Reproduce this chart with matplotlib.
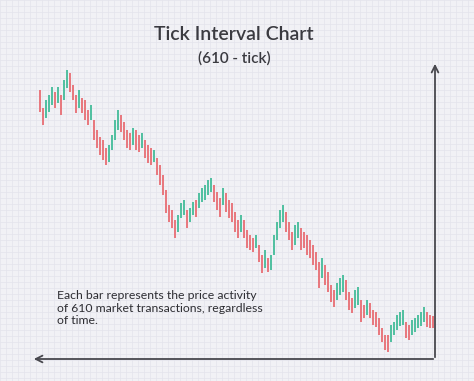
import matplotlib.pyplot as plt
import numpy as np

# price bars, one per 610 transactions (high / low)
highs = [310, 292, 300, 305, 313, 308, 313, 305, 320, 330, 327, 315, 305, 310, 302, 300,
         290, 295, 280, 270, 263, 260, 252, 255, 265, 280, 290, 285, 278, 270, 267, 272,
         270, 265, 267, 260, 255, 252, 250, 242, 235, 225, 210, 195, 190, 180, 185, 197,
         200, 190, 192, 198, 200, 207, 212, 215, 220, 222, 215, 208, 202, 212, 207, 200,
         197, 188, 180, 185, 180, 170, 165, 162, 165, 155, 145, 150, 142, 145, 165, 178,
         190, 195, 188, 178, 168, 175, 178, 172, 168, 165, 160, 155, 148, 138, 142, 135,
         128, 115, 110, 117, 122, 125, 120, 108, 102, 110, 113, 100, 95, 100, 97, 90,
         88, 82, 72, 65, 65, 75, 78, 85, 88, 90, 78, 75, 80, 82, 85, 88,
         93, 88, 85, 84]
lows = [288, 275, 282, 288, 295, 292, 297, 285, 300, 312, 308, 300, 287, 292, 287, 280,
        275, 280, 260, 252, 245, 240, 235, 238, 250, 260, 270, 268, 260, 252, 250, 255,
        250, 248, 252, 242, 237, 235, 238, 225, 215, 205, 187, 178, 172, 162, 168, 182,
        185, 172, 178, 185, 183, 192, 198, 200, 205, 208, 198, 190, 183, 195, 188, 182,
        178, 168, 162, 168, 162, 152, 150, 148, 152, 138, 127, 132, 128, 130, 145, 160,
        172, 178, 168, 160, 150, 155, 162, 150, 152, 145, 142, 135, 130, 112, 122, 115,
        108, 98, 93, 100, 105, 108, 100, 90, 87, 92, 95, 78, 82, 85, 82, 75,
        73, 65, 58, 50, 48, 58, 65, 70, 74, 75, 62, 60, 65, 68, 72, 74,
        78, 73, 72, 72]

title = "Tick Interval Chart"
subtitle = "(610 - tick)"
note = "Each bar represents the price activity\nof 610 market transactions, regardless\nof time."

W, H = 474, 381
fig = plt.figure(figsize=(W / 100, H / 100), dpi=100)
fig.patch.set_facecolor("#f1f1f5")

# background with fine grid, axes in pixel units
bg = fig.add_axes([0, 0, 1, 1])
bg.set_xlim(0, W)
bg.set_ylim(H, 0)
bg.set_facecolor("#f1f1f5")
for x in np.arange(0, W, 6):
    bg.axvline(x, color="#e4e4ec", lw=0.5, zorder=0)
for y in np.arange(0, H, 6):
    bg.axhline(y, color="#e4e4ec", lw=0.5, zorder=0)
bg.set_xticks([])
bg.set_yticks([])
for s in bg.spines.values():
    s.set_visible(False)

bg.text(234, 34, title, ha="center", va="center", fontsize=14, family="Lato",
        fontweight="semibold", color="#3a3a40")
bg.text(234, 58, subtitle, ha="center", va="center", fontsize=11, family="Lato",
        fontweight="semibold", color="#3a3a40")
bg.text(57, 308, note, ha="left", va="center", fontsize=8.8, family="Lato",
        color="#2e2e33", linespacing=1.12)

# axis arrows
bg.annotate("", xy=(31, 359), xytext=(436, 359),
            arrowprops=dict(arrowstyle="->", color="#48484e", lw=1.3,
                            mutation_scale=12))
bg.annotate("", xy=(435, 61), xytext=(435, 360),
            arrowprops=dict(arrowstyle="->", color="#48484e", lw=1.3,
                            mutation_scale=12))

# bar chart
n = len(highs)
ax = fig.add_axes([38 / W, 0, 3.0 * n / W, 1])
ax.set_xlim(-0.5, n - 0.5)
ax.set_ylim(400 - H, 400)
ax.patch.set_alpha(0)
ax.axis("off")

mids = [(h + l) / 2 for h, l in zip(highs, lows)]
colors = []
for i, m in enumerate(mids):
    if i > 0 and m > mids[i - 1]:
        colors.append("#4fbf9f")
    else:
        colors.append("#e8767c")

ax.vlines(np.arange(n), lows, highs, colors=colors, lw=1.4)

plt.savefig("out.png", dpi=100, facecolor=fig.get_facecolor())
